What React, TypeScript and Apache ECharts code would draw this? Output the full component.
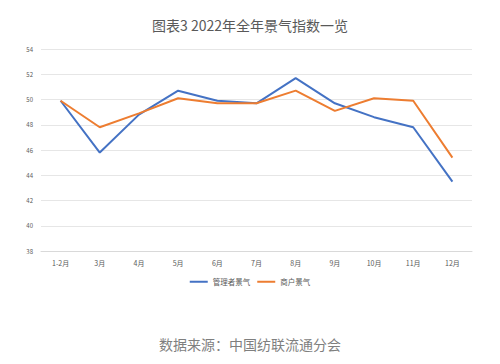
import React, { useEffect, useRef } from "react";
import * as echarts from "echarts";

const categories = ["1-2月", "3月", "4月", "5月", "6月", "7月", "8月", "9月", "10月", "11月", "12月"];
const managerValues = [49.9, 45.8, 48.8, 50.7, 49.9, 49.7, 51.7, 49.7, 48.6, 47.8, 43.5];
const merchantValues = [49.9, 47.8, 48.9, 50.1, 49.7, 49.7, 50.7, 49.1, 50.1, 49.9, 45.4];
const seriesNames = ["管理者景气", "商户景气"];

export default function App() {
  const ref = useRef<HTMLDivElement>(null);
  useEffect(() => {
    const chart = echarts.init(ref.current!, null, { renderer: "svg" });
    chart.setOption({
      animation: false,
      backgroundColor: "#ffffff",
      textStyle: { fontFamily: "Noto Sans CJK SC" },
      title: [
        {
          text: "图表3 2022年全年景气指数一览",
          left: "center",
          top: 13,
          textStyle: { fontSize: 14, fontWeight: "normal", color: "#595959", fontFamily: "Noto Sans CJK SC" },
        },
        {
          text: "数据来源：中国纺联流通分会",
          left: "center",
          top: 332,
          textStyle: { fontSize: 14, fontWeight: "normal", color: "#7f7f7f", fontFamily: "Noto Sans CJK SC" },
        },
      ],
      legend: {
        data: seriesNames,
        top: 273,
        left: "center",
        itemWidth: 18,
        itemHeight: 2,
        itemGap: 7,
        icon: "rect",
        textStyle: { fontSize: 7.5, color: "#595959" },
      },
      grid: { left: 41, right: 28, top: 49, bottom: 113, containLabel: false },
      xAxis: {
        type: "category",
        data: categories,
        boundaryGap: true,
        axisLine: { show: true, lineStyle: { color: "#d9d9d9" } },
        axisTick: { show: false },
        axisLabel: { fontSize: 7, color: "#595959", margin: 8 },
      },
      yAxis: {
        type: "value",
        min: 38,
        max: 54,
        interval: 2,
        axisLine: { show: false },
        axisTick: { show: false },
        axisLabel: { fontSize: 6, color: "#595959", margin: 8 },
        splitLine: { lineStyle: { color: "#e6e6e6", width: 1 } },
      },
      series: [
        {
          name: seriesNames[0],
          type: "line",
          data: managerValues,
          symbol: "none",
          lineStyle: { color: "#4472C4", width: 2 },
          itemStyle: { color: "#4472C4" },
        },
        {
          name: seriesNames[1],
          type: "line",
          data: merchantValues,
          symbol: "none",
          lineStyle: { color: "#ED7D31", width: 2 },
          itemStyle: { color: "#ED7D31" },
        },
      ],
    });
    return () => chart.dispose();
  }, []);
  return <div ref={ref} style={{ position: "absolute", left: 0, top: 0, width: 500, height: 364 }} />;
}
